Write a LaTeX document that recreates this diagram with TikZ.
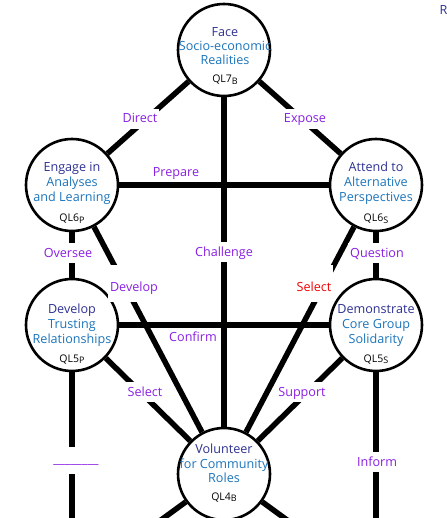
\documentclass[tikz,border=0pt]{standalone}
\usepackage{fontspec}
\setmainfont{Open Sans}
\usetikzlibrary{backgrounds}
\definecolor{indig}{HTML}{2E3192}
\definecolor{nblue}{HTML}{1C75BC}
\definecolor{lbl}{HTML}{8A1FE3}
\definecolor{lred}{HTML}{F20000}
\newcommand\mybodyfont{\fontsize{12.6}{15}\selectfont}
\newcommand\myqlfont{\fontsize{10.5}{12}\selectfont}
\newcommand\mysub[1]{\raisebox{-0.35ex}{\fontsize{9}{10}\selectfont #1}}
\begin{document}
\begin{tikzpicture}[x=1pt,y=-1pt,
  conn/.style={line width=5.5pt},
  ring/.style={circle,draw,line width=2.6pt,fill=white,minimum size=92pt,inner sep=0pt},
  lab/.style={font=\mybodyfont,text=lbl,fill=white,inner xsep=2pt,inner ysep=2pt,
              text height=12pt,text depth=4pt,anchor=base},
  biglab/.style={lab,text height=24pt,text depth=9pt},
  plainlab/.style={font=\mybodyfont,text=lbl,inner sep=0pt,anchor=base},
  first/.style={font=\mybodyfont,text=indig,inner sep=0pt,anchor=base},
  rest/.style={font=\mybodyfont,text=nblue,inner sep=0pt,anchor=base},
  qlt/.style={font=\myqlfont,text=black,inner sep=0pt,anchor=base}
]
\useasboundingbox (0,0) rectangle (446,518);
\clip (0,0) rectangle (446,518);

% circles
\node[ring] (t)  at (224,50)  {};
\node[ring] (p6) at (72,185)  {};
\node[ring] (s6) at (376,185) {};
\node[ring] (p5) at (72,325)  {};
\node[ring] (s5) at (376,325) {};
\node[ring] (b4) at (224,474) {};

% free ends below the frame
\coordinate (p5d) at (72,540);
\coordinate (s5d) at (376,540);
\coordinate (b4d) at (224,540);
\coordinate (b4l) at (150,528);
\coordinate (b4r) at (298,528);

% connectors
\begin{scope}[on background layer]
\draw[conn] (t) -- (p6);
\draw[conn] (t) -- (s6);
\draw[conn] (t) -- (b4);
\draw[conn] (p6) -- (s6);
\draw[conn] (p6) -- (p5);
\draw[conn] (s6) -- (s5);
\draw[conn] (p6) -- (b4);
\draw[conn] (s6) -- (b4);
\draw[conn] (p5) -- (s5);
\draw[conn] (p5) -- (b4);
\draw[conn] (s5) -- (b4);
\draw[conn] (p5) -- (p5d);
\draw[conn] (s5) -- (s5d);
\draw[conn] (b4) -- (b4d);
\draw[conn] (b4) -- (b4l);
\draw[conn] (b4) -- (b4r);
\end{scope}

% connector labels
\node[lab] (lDirect) at (140,123) {Direct};
\node[lab] (lExpose) at (305,123) {Expose};
\node[plainlab] (lPrepare) at (176,177) {Prepare};
\node[lab] (lChallenge) at (224,256) {Challenge};
\node[lab] (lOversee) at (68,257) {Oversee};
\node[lab] (lQuestion) at (377,257) {Question};
\node[biglab] (lDevelop) at (134,291) {Develop};
\node[biglab,text=lred] (lSelectR) at (314,291) {Select};
\node[plainlab] (lConfirm) at (193,341) {Confirm};
\node[lab] (lSelect) at (145,396) {Select};
\node[lab] (lSupport) at (302,396) {Support};
\node[lab,text height=14pt,text depth=9pt] (lBlank) at (76,463) {\_\_\_\_\_\_\_\_};
\node[lab] (lInform) at (377,466) {Inform};

% node texts
\node[first] (t1) at (225,37) {Face};
\node[rest]  (t2) at (225,51) {Socio-economic};
\node[rest]  (t3) at (225,65) {Realities};
\node[qlt]   (tq) at (225,83) {QL7\mysub{B}};

\node[first] (a1) at (72,172) {Engage in};
\node[rest]  (a2) at (72,187) {Analyses};
\node[rest]  (a3) at (72,202) {and Learning};
\node[qlt]   (aq) at (72,222) {QL6\mysub{P}};

\node[first] (b1) at (376,172) {Attend to};
\node[rest]  (b2) at (376,187) {Alternative};
\node[rest]  (b3) at (376,202) {Perspectives};
\node[qlt]   (bq) at (376,222) {QL6\mysub{S}};

\node[first] (c1) at (72,313) {Develop};
\node[rest]  (c2) at (72,328) {Trusting};
\node[rest]  (c3) at (72,343) {Relationships};
\node[qlt]   (cq) at (72,362) {QL5\mysub{P}};

\node[first] (d1) at (376,313) {Demonstrate};
\node[rest]  (d2) at (376,328) {Core Group};
\node[rest]  (d3) at (376,343) {Solidarity};
\node[qlt]   (dq) at (376,362) {QL5\mysub{S}};

\node[first] (e1) at (224,453) {Volunteer};
\node[rest]  (e2) at (224,468) {for Community};
\node[rest]  (e3) at (224,482) {Roles};
\node[qlt]   (eq) at (224,500) {QL4\mysub{B}};

% cropped text at the top right
\node[first,anchor=base west] (rcut) at (439.5,15) {R};
\end{tikzpicture}
\end{document}
